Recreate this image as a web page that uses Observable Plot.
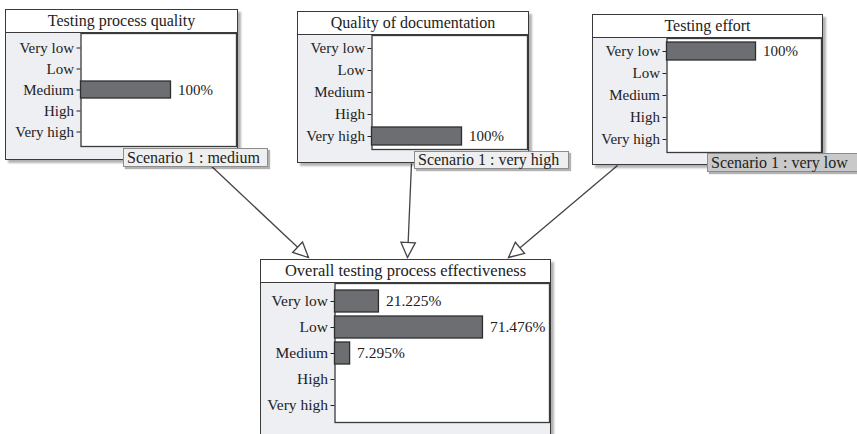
<!DOCTYPE html>
<html><head><meta charset="utf-8">
<script src="https://cdn.jsdelivr.net/npm/d3@7"></script>
<script src="https://cdn.jsdelivr.net/npm/@observablehq/plot@0.6"></script>
<style>
html,body{margin:0;padding:0;background:#fff;}
body{width:857px;height:434px;overflow:hidden;position:relative;font-family:"Liberation Serif","Tinos","Times New Roman","DejaVu Serif",serif;color:#222;}
#stage{position:absolute;left:0;top:0;width:857px;height:434px;overflow:hidden;}
.layer{position:absolute;left:0;top:0;}
.node{position:absolute;box-sizing:border-box;border:1.5px solid #3a3a3a;background:#eeeff2;box-shadow:3px 3px 2px rgba(0,0,0,0.3);}
.node .title{box-sizing:border-box;background:#fff;border-bottom:1.5px solid #3a3a3a;text-align:center;white-space:nowrap;display:flex;align-items:center;justify-content:center;}
.node svg{display:block;}
.scen{position:absolute;box-sizing:border-box;border:1px solid #8c8c8c;background:#efefef;box-shadow:2px 2px 1px rgba(0,0,0,0.3);font-size:16px;padding-left:3px;white-space:nowrap;display:flex;align-items:center;}
</style></head>
<body>
<div id="stage"></div>
<script>
// ---- data ----
const states = ["Very low", "Low", "Medium", "High", "Very high"];
const nodeTitles = ["Testing process quality", "Quality of documentation", "Testing effort", "Overall testing process effectiveness"];
const testingProcessQuality = [0, 0, 100, 0, 0];
const qualityOfDocumentation = [0, 0, 0, 0, 100];
const testingEffort = [100, 0, 0, 0, 0];
const overallEffectiveness = [21.225, 71.476, 7.295, 0, 0];
const scenarioLabels = ["Scenario 1 : medium", "Scenario 1 : very high", "Scenario 1 : very low"];

// ---- layout (page pixels) ----
const B = 1.5;
const nodes = [
  {values: testingProcessQuality, x0: 5, y0: 9, x1: 238, y1: 160, tb: 33, pl: 81, pb: 146, full: 90, fs: 15, tfs: 16},
  {values: qualityOfDocumentation, x0: 297, y0: 11, x1: 529, y1: 163, tb: 35, pl: 372, pb: 149, full: 90, fs: 15, tfs: 16},
  {values: testingEffort, x0: 592, y0: 14, x1: 823, y1: 165, tb: 38, pl: 667, pb: 152, full: 89, fs: 15, tfs: 16},
  {values: overallEffectiveness, x0: 260, y0: 259, x1: 551, y1: 470, tb: 283, pl: 335, pb: 422, full: 207, fs: 15.5, tfs: 16.5}
];
const scen = [
  {x0: 123, y0: 148, x1: 268, y1: 167, bg: "#efefef"},
  {x0: 414, y0: 151, x1: 569, y1: 169, bg: "#efefef"},
  {x0: 707, y0: 153, x1: 880, y1: 172, bg: "#c9c9c9"}
];

const stage = document.getElementById("stage");
const font = '"Liberation Serif", "Tinos", "Times New Roman", "DejaVu Serif", serif';

// ---- arrows (computed from the layout) ----
const T = nodes[3];
const edges = [
  {x1: 207, y1: 162, x2: T.x0 + 48, y2: T.y0 - 2},
  {x1: 411, y1: nodes[1].y1, x2: T.x0 + 147, y2: T.y0 - 2},
  {x1: nodes[2].x0 + 25, y1: nodes[2].y1, x2: T.x0 + 248, y2: T.y0 - 2}
].map(e => ({...e, rot: Math.atan2(e.x2 - e.x1, -(e.y2 - e.y1)) * 180 / Math.PI}));

const arrowHead = {
  draw(ctx, size) {
    const L = Math.sqrt(size / Math.PI);
    const w = L * 0.48;
    ctx.moveTo(0, 0);
    ctx.lineTo(-w, L);
    ctx.lineTo(w, L);
    ctx.closePath();
  }
};

const arrows = Plot.plot({
  width: 857, height: 434, margin: 0,
  x: {type: "identity", axis: null},
  y: {type: "identity", axis: null},
  style: {background: "transparent", overflow: "visible"},
  marks: [
    Plot.link(edges, {x1: "x1", y1: "y1", x2: "x2", y2: "y2", stroke: "#444", strokeWidth: 1.3}),
    Plot.dot(edges, {x: "x2", y: "y2", rotate: "rot", symbol: arrowHead, r: 15, fill: "white", stroke: "#444", strokeWidth: 1.3})
  ]
});
arrows.classList.add("layer");
stage.appendChild(arrows);

// ---- nodes ----
nodes.forEach((n, i) => {
  const div = document.createElement("div");
  div.className = "node";
  Object.assign(div.style, {left: n.x0 + "px", top: n.y0 + "px", width: (n.x1 - n.x0) + "px", height: (n.y1 - n.y0) + "px"});
  const title = document.createElement("div");
  title.className = "title";
  const titleH = n.tb - n.y0 - B;
  title.style.height = titleH + "px";
  title.style.fontSize = n.tfs + "px";
  title.style.fontFamily = font;
  title.textContent = nodeTitles[i];
  div.appendChild(title);

  const W = n.x1 - n.x0 - 2 * B;
  const H = n.y1 - n.y0 - 2 * B - titleH;
  const mL = n.pl - n.x0 - B;
  const mB = n.y1 - B - n.pb;
  const data = states.map((s, k) => ({state: s, value: n.values[k]}));
  const shown = data.filter(d => d.value > 0);
  const chart = Plot.plot({
    width: W, height: H,
    marginLeft: mL, marginRight: 0, marginTop: 0, marginBottom: mB,
    x: {domain: [0, 100], range: [mL, mL + n.full], axis: null},
    y: {domain: states, padding: 0.17, tickSize: 4, tickPadding: 3, label: null},
    style: {fontFamily: font, fontSize: n.fs + "px", color: "#222", background: "transparent", overflow: "visible"},
    marks: [
      Plot.frame({fill: "white", stroke: "#3a3a3a", strokeWidth: 1.3}),
      Plot.barX(shown, {x: "value", y: "state", fill: "#6d6e72", stroke: "#2e2e2e", strokeWidth: 1.3}),
      Plot.text(shown, {x: "value", y: "state", text: d => `${d.value}%`, textAnchor: "start", dx: 7, fontSize: n.fs, fill: "#222"})
    ]
  });
  chart.querySelectorAll("text").forEach(t => t.style.fontFamily = font);
  div.appendChild(chart);
  stage.appendChild(div);
});

// ---- scenario labels ----
scen.forEach((s, i) => {
  const d = document.createElement("div");
  d.className = "scen";
  Object.assign(d.style, {left: s.x0 + "px", top: s.y0 + "px", width: (s.x1 - s.x0) + "px", height: (s.y1 - s.y0) + "px", background: s.bg, fontFamily: font});
  d.textContent = scenarioLabels[i];
  stage.appendChild(d);
});
</script>
</body></html>
